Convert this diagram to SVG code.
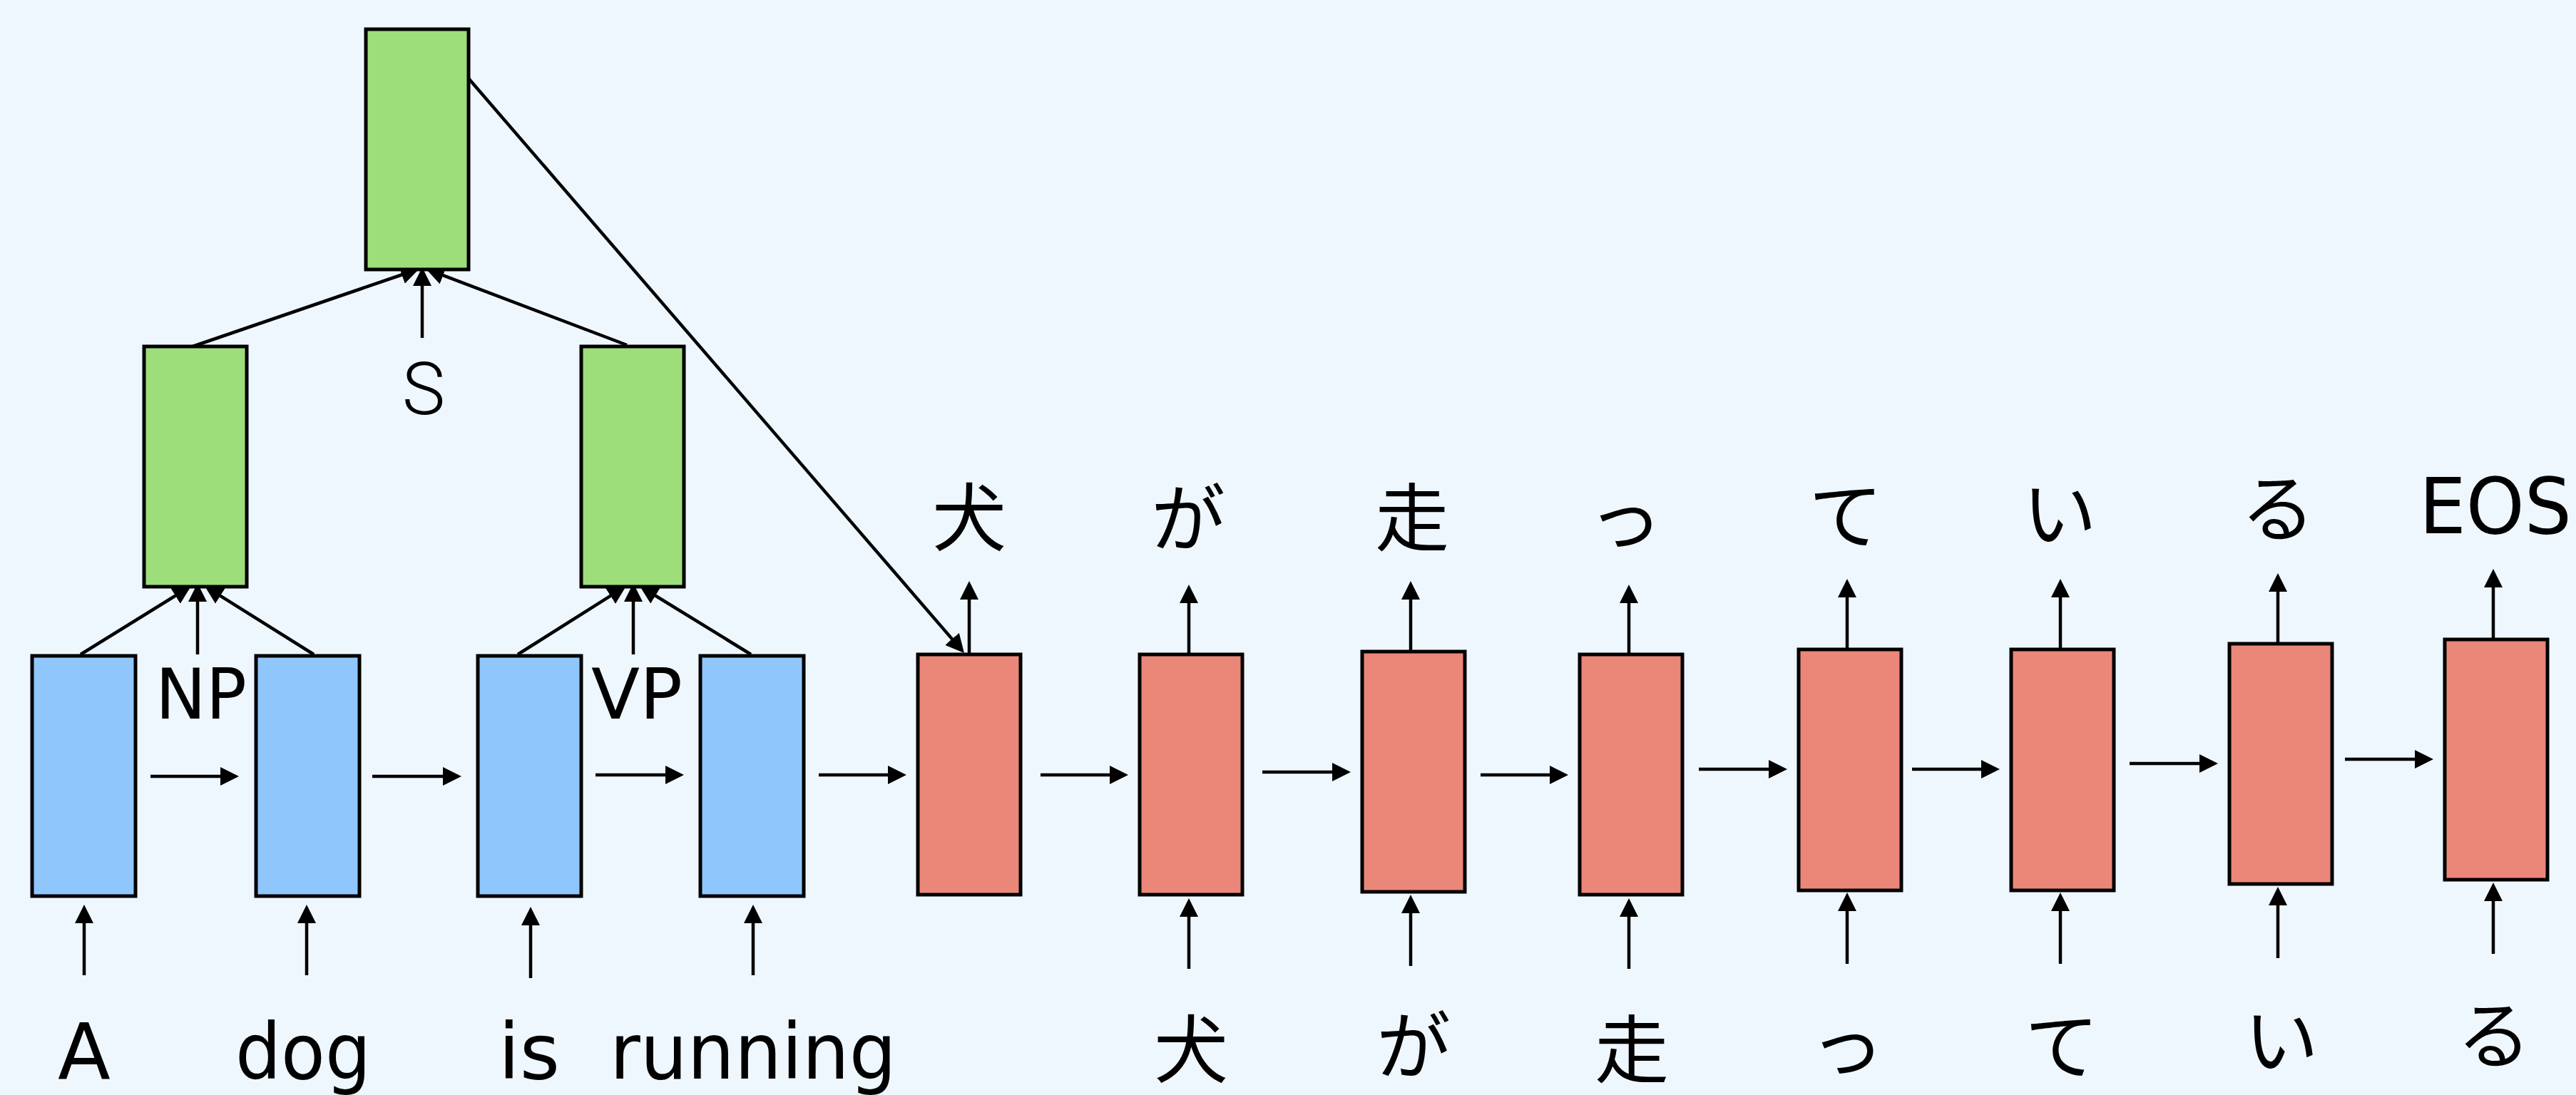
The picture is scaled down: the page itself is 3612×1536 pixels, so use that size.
<svg xmlns="http://www.w3.org/2000/svg" width="3612" height="1536" viewBox="0 0 3612 1536">
<defs>
<style>
.box{stroke:#000;stroke-width:5}
.g{fill:#9DDE7A}
.b{fill:#8FC7FD}
.r{fill:#EB8779}
.c{stroke:#000;stroke-width:4.5;fill:none;marker-end:url(#ah)}
.en{font-family:"DejaVu Sans",sans-serif;font-size:108px;text-anchor:middle;fill:#000}
.jp{font-family:"Noto Sans CJK JP",sans-serif;font-size:104px;text-anchor:middle;fill:#000}
.tag{font-family:"DejaVu Sans",sans-serif;font-size:98px;text-anchor:middle;fill:#000}
.s{font-family:Roboto,"Liberation Sans",sans-serif;font-weight:300;font-size:102px;text-anchor:middle;fill:#000}
</style>
<marker id="ah" markerUnits="userSpaceOnUse" markerWidth="26" markerHeight="26" viewBox="0 0 26 26" refX="6" refY="13" orient="auto">
<path d="M0,0 L26,13 L0,26 z" fill="#000"/>
</marker>
</defs>
<rect x="0" y="0" width="3612" height="1536" fill="#EFF7FE"/>

<g id="connectors">
<line class="c" x1="270" y1="486" x2="569.1" y2="383.5"/>
<line class="c" x1="879" y1="484" x2="615.7" y2="384.1"/>
<line class="c" x1="592" y1="474" x2="592" y2="395"/>
<line class="c" x1="113" y1="918" x2="251" y2="832.5"/>
<line class="c" x1="440" y1="918" x2="303.9" y2="832.6"/>
<line class="c" x1="277" y1="918" x2="277" y2="838"/>
<line class="c" x1="726" y1="918" x2="861.1" y2="832.7"/>
<line class="c" x1="1053" y1="918" x2="914" y2="832.5"/>
<line class="c" x1="888" y1="918" x2="888" y2="838"/>
<line class="c" x1="657" y1="110" x2="1338.9" y2="900.9"/>
<line class="c" x1="118" y1="1368" x2="118" y2="1289"/>
<line class="c" x1="430" y1="1368" x2="430" y2="1289"/>
<line class="c" x1="744" y1="1372" x2="744" y2="1292"/>
<line class="c" x1="1056" y1="1368" x2="1056" y2="1289"/>
<line class="c" x1="211" y1="1089" x2="315" y2="1089"/>
<line class="c" x1="522" y1="1089" x2="627" y2="1089"/>
<line class="c" x1="835" y1="1087" x2="939" y2="1087"/>
<line class="c" x1="1148" y1="1087" x2="1251" y2="1087"/>
<line class="c" x1="1459" y1="1087" x2="1562" y2="1087"/>
<line class="c" x1="1770" y1="1083" x2="1874" y2="1083"/>
<line class="c" x1="2076" y1="1087" x2="2179" y2="1087"/>
<line class="c" x1="2382" y1="1079" x2="2486" y2="1079"/>
<line class="c" x1="2681" y1="1079" x2="2784" y2="1079"/>
<line class="c" x1="2986" y1="1071" x2="3090" y2="1071"/>
<line class="c" x1="3288" y1="1065" x2="3392" y2="1065"/>
<line class="c" x1="1359" y1="916" x2="1359" y2="835"/>
<line class="c" x1="1667" y1="916" x2="1667" y2="840"/>
<line class="c" x1="1978" y1="912" x2="1978" y2="835"/>
<line class="c" x1="2284" y1="916" x2="2284" y2="840"/>
<line class="c" x1="2590" y1="909" x2="2590" y2="832"/>
<line class="c" x1="2889" y1="909" x2="2889" y2="832"/>
<line class="c" x1="3194" y1="901" x2="3194" y2="824"/>
<line class="c" x1="3496" y1="895" x2="3496" y2="818"/>
<line class="c" x1="1667" y1="1359" x2="1667" y2="1280"/>
<line class="c" x1="1978" y1="1355" x2="1978" y2="1275"/>
<line class="c" x1="2284" y1="1359" x2="2284" y2="1280"/>
<line class="c" x1="2590" y1="1352" x2="2590" y2="1272"/>
<line class="c" x1="2889" y1="1352" x2="2889" y2="1272"/>
<line class="c" x1="3194" y1="1344" x2="3194" y2="1264"/>
<line class="c" x1="3496" y1="1338" x2="3496" y2="1258"/>
</g>

<g id="node-S"><rect class="box g" x="513" y="41" width="144" height="337"/></g>
<g id="node-NP"><rect class="box g" x="202" y="486" width="144" height="337"/></g>
<g id="node-VP"><rect class="box g" x="815" y="486" width="144" height="337"/></g>

<g id="enc-1"><rect class="box b" x="45" y="920" width="145" height="337"/></g>
<g id="enc-2"><rect class="box b" x="359" y="920" width="145" height="337"/></g>
<g id="enc-3"><rect class="box b" x="670" y="920" width="145" height="337"/></g>
<g id="enc-4"><rect class="box b" x="982" y="920" width="145" height="337"/></g>

<g id="dec-1"><rect class="box r" x="1287" y="918" width="144" height="337"/></g>
<g id="dec-2"><rect class="box r" x="1598" y="918" width="144" height="337"/></g>
<g id="dec-3"><rect class="box r" x="1910" y="914" width="144" height="337"/></g>
<g id="dec-4"><rect class="box r" x="2215" y="918" width="144" height="337"/></g>
<g id="dec-5"><rect class="box r" x="2522" y="911" width="144" height="338"/></g>
<g id="dec-6"><rect class="box r" x="2820" y="911" width="144" height="338"/></g>
<g id="dec-7"><rect class="box r" x="3126" y="903" width="144" height="337"/></g>
<g id="dec-8"><rect class="box r" x="3428" y="897" width="144" height="337"/></g>

<g id="labels">
<text class="s" x="594" y="581">S</text>
<text class="tag" x="282" y="1008" textLength="128" lengthAdjust="spacingAndGlyphs">NP</text>
<text class="tag" x="893" y="1008" textLength="128" lengthAdjust="spacingAndGlyphs">VP</text>
<text class="en" x="118" y="1513">A</text>
<text class="en" x="425" y="1513" textLength="190" lengthAdjust="spacingAndGlyphs">dog</text>
<text class="en" x="742" y="1513">is</text>
<text class="en" x="1056" y="1513" textLength="402" lengthAdjust="spacingAndGlyphs">running</text>

<text class="jp" x="1359" y="765">犬</text>
<text class="jp" x="1666" y="766">が</text>
<text class="jp" x="1980" y="765">走</text>
<text class="jp" x="2279" y="765">っ</text>
<text class="jp" x="2588" y="762">て</text>
<text class="jp" x="2888" y="759">い</text>
<text class="jp" x="3194" y="752">る</text>
<text class="en" x="3499" y="748" textLength="214" lengthAdjust="spacingAndGlyphs">EOS</text>

<text class="jp" x="1670" y="1511">犬</text>
<text class="jp" x="1982" y="1506">が</text>
<text class="jp" x="2288" y="1511">走</text>
<text class="jp" x="2590" y="1504">っ</text>
<text class="jp" x="2891" y="1506">て</text>
<text class="jp" x="3199" y="1498">い</text>
<text class="jp" x="3497" y="1491">る</text>
</g>
</svg>
